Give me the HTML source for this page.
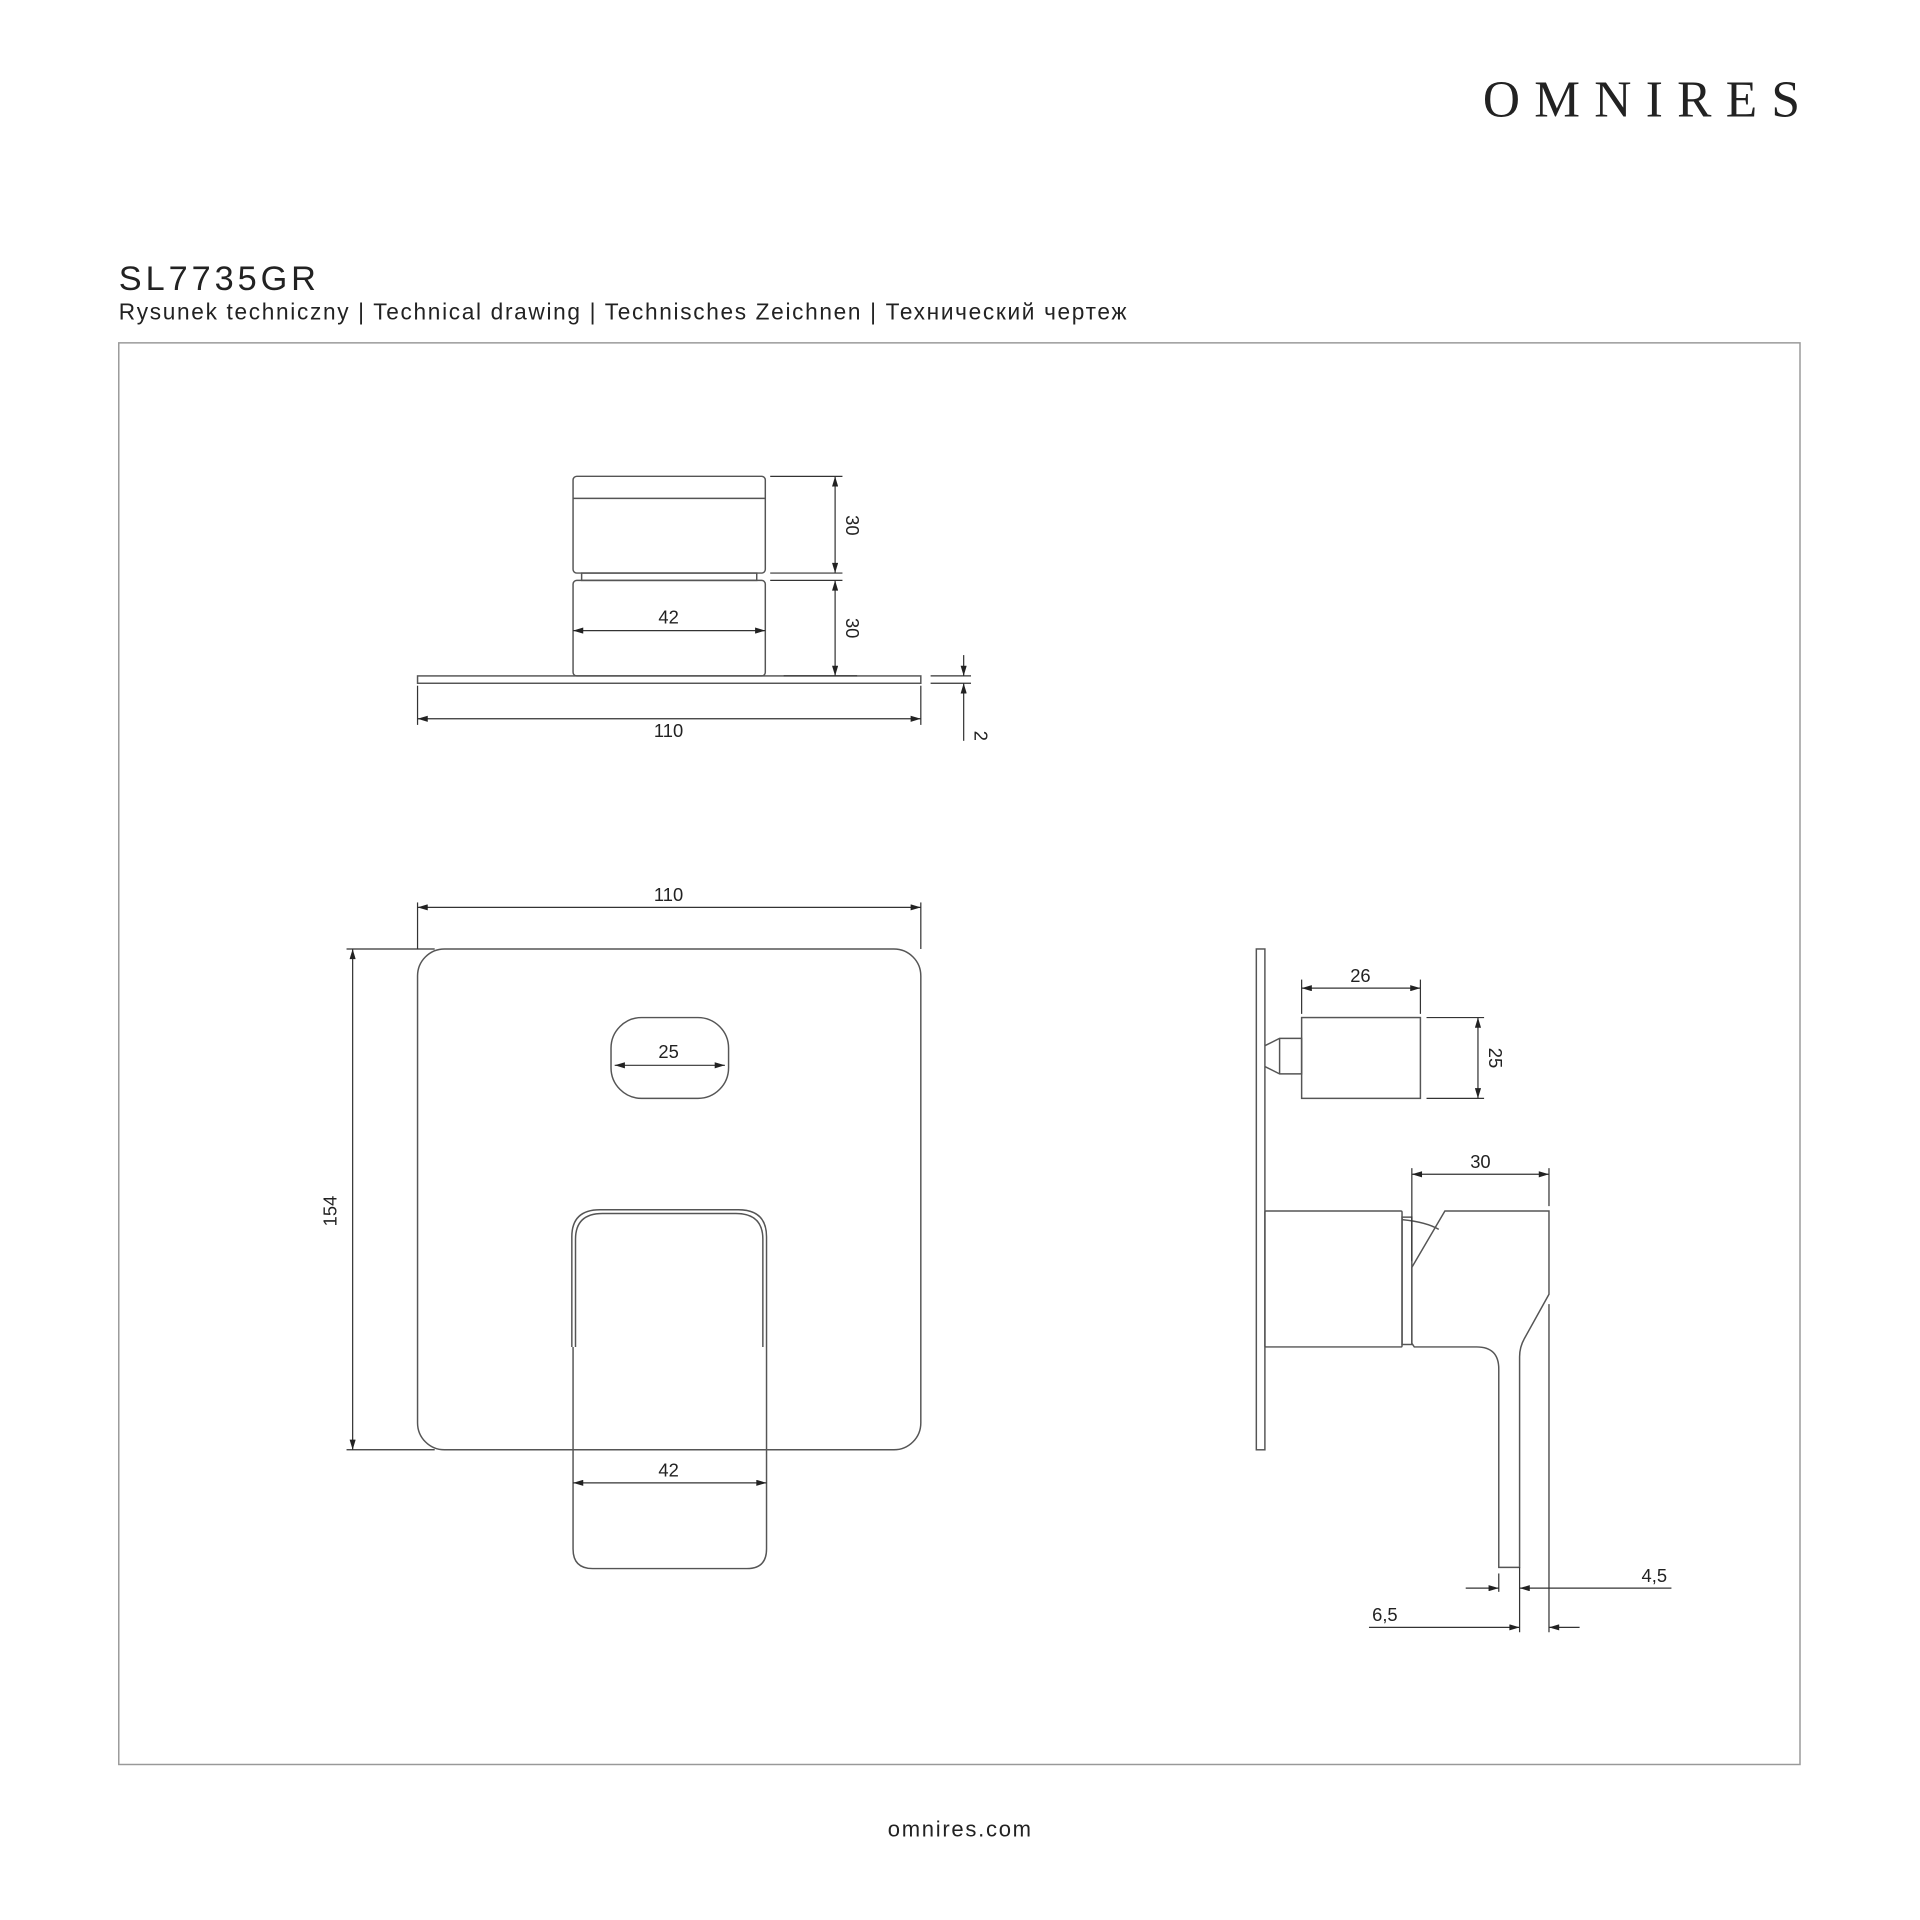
<!DOCTYPE html>
<html><head><meta charset="utf-8"><style>
html,body{margin:0;padding:0;background:#fff;width:1920px;height:1920px;overflow:hidden}
svg{display:block}
text{font-family:"Liberation Sans",sans-serif;fill:#222}
</style></head><body>
<svg width="1920" height="1920" viewBox="0 0 1568 1568" xmlns="http://www.w3.org/2000/svg">
<defs>
<marker id="a" viewBox="0 0 10 6" refX="10" refY="3" markerWidth="12" markerHeight="5" orient="auto-start-reverse" markerUnits="userSpaceOnUse"><path d="M0,0L10,3L0,6z" fill="#222"/></marker>
</defs>
<text x="1211" y="95" textLength="259" lengthAdjust="spacing" style="font-family:'Liberation Serif',serif;font-size:42px" fill="#222">OMNIRES</text>
<text x="97" y="237" textLength="161" lengthAdjust="spacing" style="font-size:28px">SL7735GR</text>
<text x="97" y="261" textLength="823" lengthAdjust="spacing" style="font-size:18.5px">Rysunek techniczny | Technical drawing | Technisches Zeichnen | Технический чертеж</text>
<rect x="97" y="280" width="1373" height="1161" fill="none" stroke="#999" stroke-width="1.2"/>
<text x="725" y="1500" textLength="117" lengthAdjust="spacing" style="font-size:18px">omnires.com</text>

<g fill="none" stroke="#555" stroke-width="1.2">
<rect x="468" y="389" width="157" height="79" rx="3"/>
<line x1="468" y1="407" x2="625" y2="407"/>
<rect x="475" y="468" width="143" height="6"/>
<rect x="468" y="474" width="157" height="78" rx="3"/>
<rect x="341" y="552" width="411" height="6"/>
<g stroke="#333" stroke-width="1">
<line x1="629" y1="389" x2="688" y2="389"/><line x1="629" y1="468" x2="688" y2="468"/>
<line x1="629" y1="474" x2="688" y2="474"/><line x1="640" y1="552" x2="700" y2="552"/>
<line x1="682" y1="389" x2="682" y2="468" marker-start="url(#a)" marker-end="url(#a)"/>
<line x1="682" y1="474" x2="682" y2="552" marker-start="url(#a)" marker-end="url(#a)"/>
<line x1="468" y1="515" x2="625" y2="515" marker-start="url(#a)" marker-end="url(#a)"/>
<line x1="341" y1="560" x2="341" y2="592"/><line x1="752" y1="560" x2="752" y2="592"/>
<line x1="341" y1="587" x2="752" y2="587" marker-start="url(#a)" marker-end="url(#a)"/>
<line x1="760" y1="552" x2="793" y2="552"/><line x1="760" y1="558" x2="793" y2="558"/>
<line x1="787" y1="535" x2="787" y2="552" marker-end="url(#a)"/>
<line x1="787" y1="605" x2="787" y2="558" marker-end="url(#a)"/>
</g>

<rect x="341" y="775" width="411" height="409" rx="22"/>
<rect x="499" y="831" width="96" height="66" rx="25"/>
<path d="M467,1100 V1010 Q467,988 490,988 H603 Q626,988 626,1010 V1100"/>
<path d="M470,1100 V1012 Q470,991 492,991 H601 Q623,991 623,1012 V1100"/>
<path d="M468,1100 V1265 Q468,1281 484,1281 H610 Q626,1281 626,1265 V1100"/>
<g stroke="#333" stroke-width="1">
<line x1="341" y1="737" x2="341" y2="775"/><line x1="752" y1="737" x2="752" y2="775"/>
<line x1="341" y1="741" x2="752" y2="741" marker-start="url(#a)" marker-end="url(#a)"/>
<line x1="283" y1="775" x2="355" y2="775"/><line x1="283" y1="1184" x2="355" y2="1184"/>
<line x1="288" y1="775" x2="288" y2="1184" marker-start="url(#a)" marker-end="url(#a)"/>
<line x1="502" y1="870" x2="592" y2="870" marker-start="url(#a)" marker-end="url(#a)"/>
<line x1="468" y1="1211" x2="626" y2="1211" marker-start="url(#a)" marker-end="url(#a)"/>
</g>

<rect x="1026" y="775" width="7" height="409"/>
<path d="M1033,854 L1045,848 H1063 V877 H1045 L1033,871"/>
<line x1="1045" y1="848" x2="1045" y2="877"/>
<rect x="1063" y="831" width="97" height="66"/>
<rect x="1033" y="989" width="112" height="111" rx="1"/>
<rect x="1145" y="994" width="8" height="104"/>
<path d="M1153,1035 L1180,989 H1265 V1057 L1245,1093 Q1241,1100 1241,1108 V1280 H1224 V1118 Q1224,1100 1206,1100 H1155 L1153,1097 Z"/>
<path d="M1145,996 Q1165,998 1175,1004"/>
<g stroke="#333" stroke-width="1">
<line x1="1063" y1="800" x2="1063" y2="828"/><line x1="1160" y1="800" x2="1160" y2="828"/>
<line x1="1063" y1="807" x2="1160" y2="807" marker-start="url(#a)" marker-end="url(#a)"/>
<line x1="1165" y1="831" x2="1212" y2="831"/><line x1="1165" y1="897" x2="1212" y2="897"/>
<line x1="1207" y1="831" x2="1207" y2="897" marker-start="url(#a)" marker-end="url(#a)"/>
<line x1="1153" y1="954" x2="1153" y2="1030"/><line x1="1265" y1="954" x2="1265" y2="985"/>
<line x1="1153" y1="959" x2="1265" y2="959" marker-start="url(#a)" marker-end="url(#a)"/>
<line x1="1224" y1="1285" x2="1224" y2="1300"/>
<line x1="1241" y1="1280" x2="1241" y2="1333"/>
<line x1="1265" y1="1065" x2="1265" y2="1333"/>
<line x1="1197" y1="1297" x2="1224" y2="1297" marker-end="url(#a)"/>
<line x1="1365" y1="1297" x2="1241" y2="1297" marker-end="url(#a)"/>
<line x1="1118" y1="1329" x2="1241" y2="1329" marker-end="url(#a)"/>
<line x1="1290" y1="1329" x2="1265" y2="1329" marker-end="url(#a)"/>
</g>
</g>
<g style="font-size:15px">
<text x="546" y="509" text-anchor="middle" style="font-size:15px">42</text>
<text x="546" y="602" text-anchor="middle" style="font-size:15px">110</text>
<text transform="translate(691,429) rotate(90)" text-anchor="middle" style="font-size:15px">30</text>
<text transform="translate(691,513) rotate(90)" text-anchor="middle" style="font-size:15px">30</text>
<text transform="translate(796,601) rotate(90)" text-anchor="middle" style="font-size:15px">2</text>
<text x="546" y="736" text-anchor="middle" style="font-size:15px">110</text>
<text transform="translate(275,989) rotate(-90)" text-anchor="middle" style="font-size:15px">154</text>
<text x="546" y="864" text-anchor="middle" style="font-size:15px">25</text>
<text x="546" y="1206" text-anchor="middle" style="font-size:15px">42</text>
<text x="1111" y="802" text-anchor="middle" style="font-size:15px">26</text>
<text transform="translate(1216,864) rotate(90)" text-anchor="middle" style="font-size:15px">25</text>
<text x="1209" y="954" text-anchor="middle" style="font-size:15px">30</text>
<text x="1351" y="1292" text-anchor="middle" style="font-size:15px">4,5</text>
<text x="1131" y="1324" text-anchor="middle" style="font-size:15px">6,5</text>
</g>
</svg>
</body></html>
